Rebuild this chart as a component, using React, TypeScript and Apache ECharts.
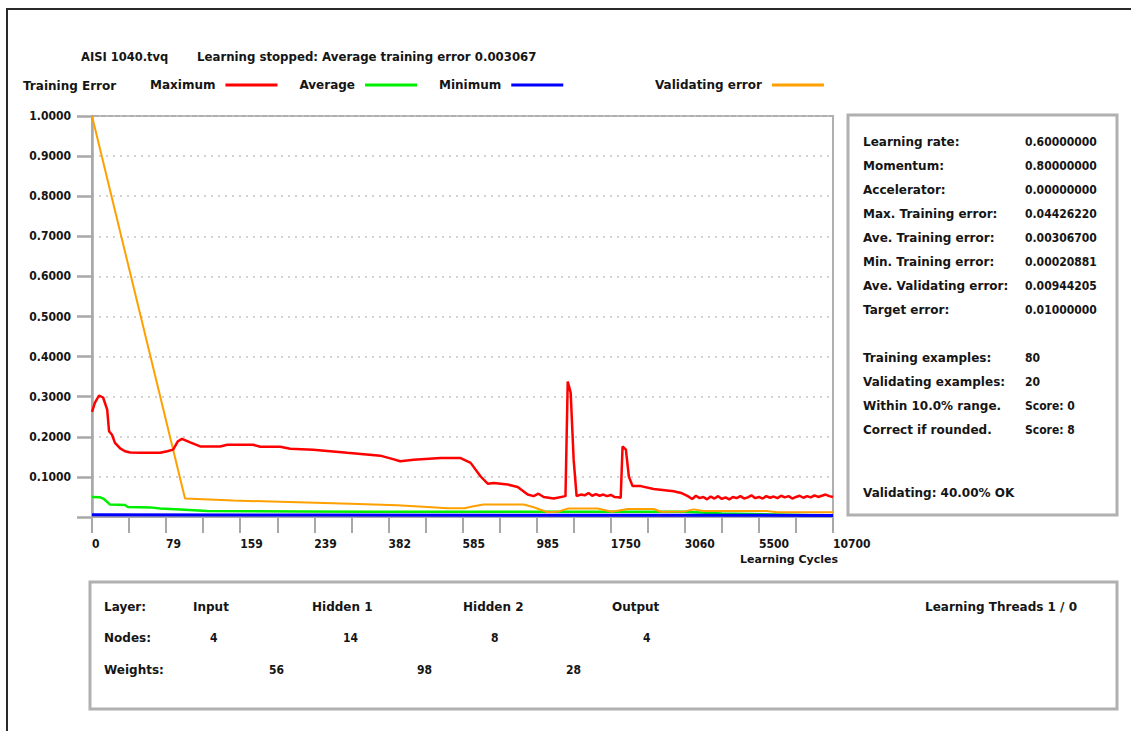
import React, { useEffect, useRef } from "react";
import * as echarts from "echarts";

// ---- data ----
const fileName = "AISI 1040.tvq";
const statusText = "Learning stopped: Average training error 0.003067";
const xTickLabels = ["0", "79", "159", "239", "382", "585", "985", "1750", "3060", "5500", "10700"];

// positions are in x-axis tick units (20 ticks across the axis), values are errors
const maxPos = [0, 0.08, 0.19, 0.3, 0.41, 0.46, 0.54, 0.62, 0.76, 0.89, 1.03, 1.3, 1.84, 2.03, 2.19, 2.32, 2.43, 2.65, 2.92, 3.46, 3.65, 4.35, 4.54, 5.08, 5.35, 5.97, 6.89, 7.78, 8.1, 8.32, 8.68, 9.41, 9.95, 10.22, 10.49, 10.68, 10.84, 11.22, 11.49, 11.76, 11.92, 12.05, 12.19, 12.46, 12.78, 12.84, 12.92, 13.0, 13.08, 13.19, 13.3, 13.4, 13.5, 13.6, 13.7, 13.8, 13.9, 14.0, 14.1, 14.2, 14.27, 14.32, 14.41, 14.49, 14.59, 14.81, 15.16, 15.7, 15.9, 16.08, 16.2, 16.3, 16.4, 16.5, 16.6, 16.7, 16.8, 16.9, 17.0, 17.1, 17.2, 17.3, 17.4, 17.5, 17.6, 17.7, 17.8, 17.9, 18.0, 18.1, 18.2, 18.3, 18.4, 18.5, 18.6, 18.7, 18.8, 18.9, 19.0, 19.1, 19.2, 19.3, 19.4, 19.5, 19.6, 19.7, 19.8, 19.9, 20.0];
const maxVal = [0.262, 0.285, 0.303, 0.298, 0.268, 0.214, 0.205, 0.185, 0.171, 0.164, 0.161, 0.16, 0.16, 0.164, 0.168, 0.189, 0.195, 0.186, 0.176, 0.176, 0.18, 0.18, 0.175, 0.175, 0.17, 0.168, 0.16, 0.153, 0.145, 0.139, 0.143, 0.147, 0.147, 0.135, 0.101, 0.083, 0.085, 0.081, 0.075, 0.056, 0.052, 0.058, 0.05, 0.046, 0.052, 0.338, 0.31, 0.143, 0.052, 0.056, 0.054, 0.06, 0.053, 0.057, 0.053, 0.056, 0.052, 0.055, 0.05, 0.049, 0.048, 0.176, 0.168, 0.101, 0.077, 0.077, 0.07, 0.064, 0.06, 0.052, 0.045, 0.053, 0.047, 0.05, 0.044, 0.051, 0.046, 0.052, 0.045, 0.049, 0.044, 0.05, 0.047, 0.052, 0.046, 0.049, 0.054, 0.047, 0.05, 0.046, 0.052, 0.048, 0.051, 0.047, 0.053, 0.049, 0.052, 0.046, 0.05, 0.053, 0.048, 0.052, 0.049, 0.054, 0.05, 0.053, 0.056, 0.052, 0.05];

const avgPos = [0, 0.22, 0.32, 0.49, 0.89, 0.97, 1.57, 1.84, 2.38, 3.11, 5.62, 7.51, 16.0, 17.0, 18.5, 20.0];
const avgVal = [0.05, 0.049, 0.045, 0.031, 0.03, 0.025, 0.024, 0.021, 0.019, 0.015, 0.014, 0.013, 0.013, 0.009, 0.006, 0.003];

const minPos = [0, 6, 12, 20];
const minVal = [0.0055, 0.005, 0.0045, 0.004];

const valPos = [0, 2.51, 3.81, 5.08, 6.97, 8.24, 9.05, 9.59, 10.05, 10.3, 10.57, 11.65, 11.9, 12.3, 12.6, 12.84, 13.65, 14.03, 14.46, 15.16, 15.35, 16.0, 16.24, 16.5, 18.2, 18.5, 20.0];
const valVal = [1.0, 0.046, 0.041, 0.038, 0.033, 0.029, 0.025, 0.022, 0.022, 0.027, 0.031, 0.031, 0.025, 0.012, 0.014, 0.021, 0.021, 0.013, 0.02, 0.02, 0.013, 0.014, 0.019, 0.015, 0.015, 0.012, 0.012];

const paramNames = ["Learning rate:", "Momentum:", "Accelerator:", "Max. Training error:", "Ave. Training error:", "Min. Training error:", "Ave. Validating error:", "Target error:"];
const paramValues = ["0.60000000", "0.80000000", "0.00000000", "0.04426220", "0.00306700", "0.00020881", "0.00944205", "0.01000000"];
const exampleNames = ["Training examples:", "Validating examples:", "Within 10.0% range.", "Correct if rounded."];
const exampleValues = ["80", "20", "Score: 0", "Score: 8"];
const validatingText = "Validating: 40.00% OK";

const layerNames = ["Input", "Hidden 1", "Hidden 2", "Output"];
const nodeCounts = ["4", "14", "8", "4"];
const weightCounts = ["56", "98", "28"];
const threadsText = "Learning Threads 1 / 0";

// ---- style ----
const FONT = "DejaVu Sans";
const NUMFONT = "'DejaVu Sans Condensed', 'DejaVu Sans'";
const INK = "#151515";
const GRAY = "#b0b0b0";

const zip = (xs: number[], ys: number[]) => xs.map((x, i) => [x, ys[i]]);

function txt(text: string, x: number, y: number, size = 12, family = FONT, align = "left") {
  return {
    type: "text",
    x,
    y,
    silent: true,
    style: {
      text,
      fill: INK,
      fontFamily: family,
      fontWeight: "bold",
      fontSize: size,
      align,
      verticalAlign: "middle",
    },
  };
}

export default function App() {
  const ref = useRef<HTMLDivElement>(null);

  useEffect(() => {
    if (!ref.current) return;
    const chart = echarts.init(ref.current, null, { renderer: "svg" });

    const graphics: any[] = [];
    // outer frame (top and left)
    graphics.push({
      type: "polyline",
      silent: true,
      shape: { points: [[7, 731], [7, 9], [1131, 9]] },
      style: { stroke: "#2a2a2a", lineWidth: 2, fill: "none" },
    });
    graphics.push(txt(fileName, 81, 57, 11.5));
    graphics.push(txt(statusText, 197, 57, 11.75));
    graphics.push(txt("Training Error", 23, 86, 12));
    graphics.push(txt("Learning Cycles", 740, 559, 11));

    // right panel
    graphics.push({
      type: "rect",
      silent: true,
      shape: { x: 848, y: 115, width: 269, height: 400 },
      style: { fill: "#fff", stroke: GRAY, lineWidth: 3 },
    });
    paramNames.forEach((n, i) => {
      graphics.push(txt(n, 863, 142 + i * 24, 12));
      graphics.push(txt(paramValues[i], 1025, 142 + i * 24, 12, NUMFONT));
    });
    exampleNames.forEach((n, i) => {
      graphics.push(txt(n, 863, 358 + i * 24, 12));
      graphics.push(txt(exampleValues[i], 1025, 358 + i * 24, 12, NUMFONT));
    });
    graphics.push(txt(validatingText, 863, 493, 12));

    // bottom panel
    graphics.push({
      type: "rect",
      silent: true,
      shape: { x: 90, y: 582, width: 1027, height: 127 },
      style: { fill: "#fff", stroke: GRAY, lineWidth: 3 },
    });
    const layerX = [193, 312, 463, 612];
    const nodeX = [210, 343, 491, 643];
    const weightX = [269, 417, 566];
    graphics.push(txt("Layer:", 104, 607, 12));
    graphics.push(txt("Nodes:", 104, 638, 12));
    graphics.push(txt("Weights:", 104, 670, 12));
    layerNames.forEach((n, i) => graphics.push(txt(n, layerX[i], 607, 12)));
    nodeCounts.forEach((n, i) => graphics.push(txt(n, nodeX[i], 638, 12, NUMFONT)));
    weightCounts.forEach((n, i) => graphics.push(txt(n, weightX[i], 670, 12, NUMFONT)));
    graphics.push(txt(threadsText, 925, 607, 12));

    const legendText = {
      fontFamily: FONT,
      fontWeight: "bold" as const,
      fontSize: 12,
      color: INK,
      padding: [0, 5, 0, 0],
    };

    const option: any = {
      animation: false,
      backgroundColor: "#ffffff",
      grid: {
        left: 92,
        top: 116,
        width: 741,
        height: 401,
        show: true,
        borderColor: GRAY,
        borderWidth: 2,
        backgroundColor: "transparent",
      },
      legend: [
        {
          data: ["Maximum", "Average", "Minimum"],
          left: 150,
          top: 79,
          padding: 0,
          align: "right",
          icon: "rect",
          itemWidth: 52,
          itemHeight: 3,
          itemGap: 22,
          selectedMode: false,
          textStyle: legendText,
        },
        {
          data: ["Validating error"],
          left: 655,
          top: 79,
          padding: 0,
          align: "right",
          icon: "rect",
          itemWidth: 52,
          itemHeight: 3,
          selectedMode: false,
          textStyle: legendText,
        },
      ],
      xAxis: {
        type: "value",
        min: 0,
        max: 20,
        interval: 1,
        axisLine: { show: true, onZero: false, lineStyle: { color: "#a8a8a8", width: 2 } },
        axisTick: { show: true, length: 16, lineStyle: { color: "#a8a8a8", width: 2 } },
        axisLabel: {
          formatter: (v: number) => {
            const r = Math.round(v);
            return r % 2 === 0 ? xTickLabels[r / 2] : "";
          },
          align: "left",
          margin: 21,
          color: INK,
          fontFamily: NUMFONT,
          fontWeight: "bold",
          fontSize: 12,
          showMinLabel: true,
          showMaxLabel: true,
          hideOverlap: false,
        },
        splitLine: { show: false },
      },
      yAxis: {
        type: "value",
        min: 0,
        max: 1,
        interval: 0.1,
        axisLine: { show: true, lineStyle: { color: "#a8a8a8", width: 2.5 } },
        axisTick: { show: true, length: 15, lineStyle: { color: "#a8a8a8", width: 2.5 } },
        axisLabel: {
          formatter: (v: number) => (Math.abs(v) < 1e-9 ? "" : v.toFixed(4)),
          margin: 21,
          color: INK,
          fontFamily: NUMFONT,
          fontWeight: "bold",
          fontSize: 12,
        },
        splitLine: { show: true, lineStyle: { type: [2, 5], color: "#c4c4c4", width: 1.5 } },
      },
      series: [
        {
          name: "Maximum",
          type: "line",
          data: zip(maxPos, maxVal),
          showSymbol: false,
          color: "#ff0000",
          lineStyle: { color: "#ff0000", width: 2.5 },
          z: 6,
        },
        {
          name: "Average",
          type: "line",
          data: zip(avgPos, avgVal),
          showSymbol: false,
          color: "#00ee00",
          lineStyle: { color: "#00ee00", width: 2.5 },
          z: 3,
        },
        {
          name: "Minimum",
          type: "line",
          data: zip(minPos, minVal),
          showSymbol: false,
          color: "#0000ff",
          lineStyle: { color: "#0000ff", width: 3 },
          z: 4,
        },
        {
          name: "Validating error",
          type: "line",
          data: zip(valPos, valVal),
          showSymbol: false,
          color: "#ffa000",
          lineStyle: { color: "#ffa000", width: 2 },
          z: 5,
        },
      ],
      graphic: graphics,
    };

    chart.setOption(option);
    return () => chart.dispose();
  }, []);

  return (
    <div
      ref={ref}
      style={{ position: "fixed", left: 0, top: 0, width: 1131, height: 731, background: "#fff" }}
    />
  );
}
